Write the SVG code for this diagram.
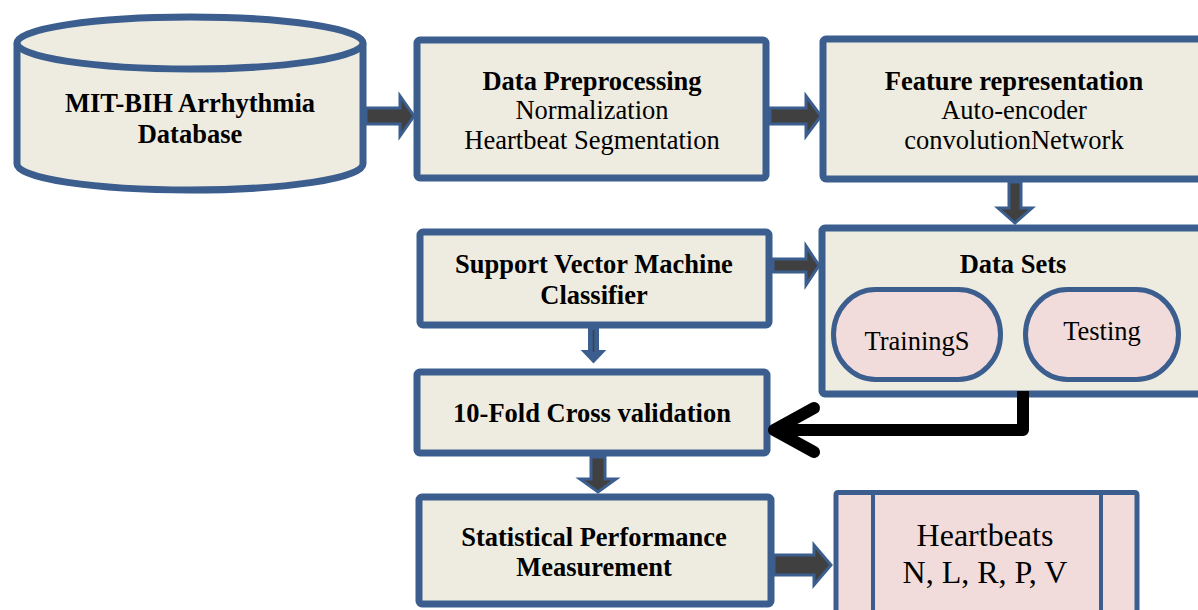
<svg xmlns="http://www.w3.org/2000/svg" width="1198" height="610" viewBox="0 0 1198 610">
  <style>
    .box { fill: #eeece1; stroke: #3b5e8e; stroke-width: 7; }
    .pink { fill: #f2dcdb; stroke: #3b5e8e; stroke-width: 5; }
    .blk { fill: #404040; stroke: #3b5e8e; stroke-width: 3; stroke-linejoin: miter; }
    .thin { fill: #3b5e8e; stroke: #3b5e8e; stroke-width: 2; }
    text { font-family: "Liberation Serif", "Times New Roman", serif; font-size: 26.5px; fill: #000; text-anchor: middle; }
    .b { font-weight: bold; }
    .big { font-size: 32px; }
  </style>

  <!-- database cylinder -->
  <g id="database">
    <path class="box" d="M17,43 A173,26 0 0,1 363,43 V164 A173,26 0 0,1 17,164 Z"/>
    <path class="box" fill="none" d="M17,43 A173,26 0 0,0 363,43"/>
    <text class="b" x="190" y="112">MIT-BIH Arrhythmia</text>
    <text class="b" x="190" y="143">Database</text>
  </g>

  <g id="preprocessing">
    <rect class="box" x="417" y="40" width="349" height="138" rx="3"/>
    <text class="b" x="592" y="90">Data Preprocessing</text>
    <text x="592" y="119">Normalization</text>
    <text x="592" y="149">Heartbeat Segmentation</text>
  </g>

  <g id="features">
    <rect class="box" x="823" y="39" width="400" height="140" rx="3"/>
    <text class="b" x="1014" y="90">Feature representation</text>
    <text x="1014" y="119">Auto-encoder</text>
    <text x="1014" y="149">convolutionNetwork</text>
  </g>

  <g id="datasets">
    <rect class="box" x="822" y="228" width="400" height="166" rx="3"/>
    <text class="b" x="1013" y="273">Data Sets</text>
    <rect class="pink" x="833.5" y="289.5" width="167" height="90" rx="42" ry="45"/>
    <text x="917" y="350">TrainingS</text>
    <rect class="pink" x="1025.5" y="289.5" width="153" height="90" rx="42" ry="45"/>
    <text x="1102" y="340">Testing</text>
  </g>

  <g id="svm">
    <rect class="box" x="420" y="232" width="349" height="93" rx="3"/>
    <text class="b" x="594" y="273">Support Vector Machine</text>
    <text class="b" x="594" y="304">Classifier</text>
  </g>

  <g id="crossval">
    <rect class="box" x="417" y="372" width="350" height="81" rx="3"/>
    <text class="b" x="592" y="422">10-Fold Cross validation</text>
  </g>

  <g id="statistics">
    <rect class="box" x="419" y="497" width="352" height="107" rx="3"/>
    <text class="b" x="594" y="546">Statistical Performance</text>
    <text class="b" x="594" y="576">Measurement</text>
  </g>

  <g id="heartbeats">
    <rect class="pink" x="836" y="492.5" width="301" height="140" rx="2"/>
    <line x1="873" y1="492" x2="873" y2="612" stroke="#3b5e8e" stroke-width="4"/>
    <line x1="1101" y1="492" x2="1101" y2="612" stroke="#3b5e8e" stroke-width="4"/>
    <text class="big" x="985" y="546">Heartbeats</text>
    <text class="big" x="985" y="583">N, L, R, P, V</text>
  </g>

  <!-- connectors -->
  <g id="connectors">
    <polygon class="blk" points="366,108 400,108 400,96 414,116 400,136 400,124 366,124"/>
    <polygon class="blk" points="770,108 806,108 806,96 821,116 806,136 806,124 770,124"/>
    <polygon class="blk" points="1009,182 1021,182 1021,208 1032,208 1015,223 998,208 1009,208"/>
    <polygon class="blk" points="773,259 806,259 806,246 819,265.5 806,285 806,272 773,272"/>
    <polygon class="thin" points="589,329 598,329 598,351 604,351 593.5,362 583,351 589,351"/>
    <line x1="593.5" y1="330" x2="593.5" y2="352" stroke="#404040" stroke-width="1.5"/>
    <polygon class="blk" points="591,457 605,457 605,479 616,479 598,492 580,479 591,479"/>
    <polygon class="blk" points="774,555 814,555 814,545 831,565 814,585 814,575 774,575"/>
    <path d="M1023,391 V430 H774" fill="none" stroke="#000" stroke-width="12" stroke-linejoin="round"/>
    <path d="M814,408 L774,430 L814,452" fill="none" stroke="#000" stroke-width="12" stroke-linecap="round" stroke-linejoin="round"/>
  </g>
</svg>
